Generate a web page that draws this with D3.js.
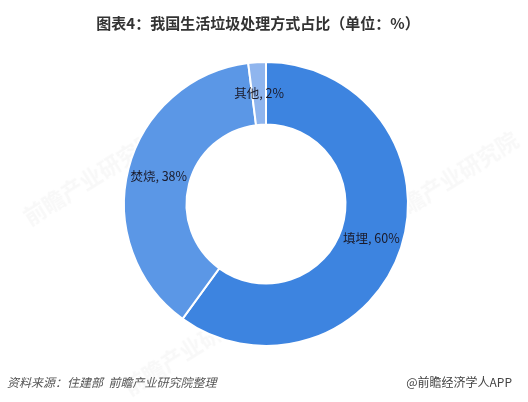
<!DOCTYPE html>
<html>
<head>
<meta charset="utf-8">
<script src="https://cdn.jsdelivr.net/npm/d3@7"></script>
<style>
  html, body { margin: 0; padding: 0; background: #fff; }
  svg { display: block; }
</style>
</head>
<body>
<svg id="chart" width="528" height="402"></svg>
<script>
// Treatment methods and their share (%)
const categories = ["填埋", "焚烧", "其他"];
const shares = [60, 38, 2];
const sliceColors = ["#3d84e0", "#5b97e6", "#8fb5ee"];

const titleText = "图表4：我国生活垃圾处理方式占比（单位：%）";
const sourceText = "资料来源：住建部\u00a0\u00a0前瞻产业研究院整理";
const brandText = "@前瞻经济学人APP";

const W = 528, H = 402;
const cx = 266, cy = 204;
const outerR = 142, innerR = 79.5;
const fontCN = "'Microsoft YaHei','Noto Sans CJK SC','Noto Sans',sans-serif";

const svg = d3.select("#chart");

// faint brand marks in the background
const wm = svg.append("g").attr("fill", "#c8c8c8").attr("opacity", 0.13)
  .attr("font-family", fontCN).attr("font-weight", "bold").attr("font-size", 22);
[[95, 185], [235, 115], [455, 185], [195, 355]].forEach(([x, y]) => {
  wm.append("text").attr("transform", `translate(${x},${y}) rotate(-32)`)
    .attr("text-anchor", "middle").text("前瞻产业研究院");
});

const data = categories.map((c, i) => ({ name: c, value: shares[i] }));
const pie = d3.pie().value(d => d.value).sort(null);
const arc = d3.arc().innerRadius(innerR).outerRadius(outerR);
const labelArc = d3.arc().innerRadius((innerR + outerR) / 2).outerRadius((innerR + outerR) / 2);
const color = d3.scaleOrdinal().domain(categories).range(sliceColors);

const g = svg.append("g").attr("transform", `translate(${cx},${cy})`);
const arcs = pie(data);

g.selectAll("path.slice").data(arcs).join("path")
  .attr("class", "slice")
  .attr("d", arc)
  .attr("fill", d => color(d.data.name))
  .attr("stroke", "#fff")
  .attr("stroke-width", 2);

g.selectAll("text.lbl").data(arcs).join("text")
  .attr("class", "lbl")
  .attr("transform", d => `translate(${labelArc.centroid(d)})`)
  .attr("text-anchor", "middle")
  .attr("dy", "0.35em")
  .attr("font-family", fontCN)
  .attr("font-size", 12.5)
  .attr("fill", "#1a1a2a")
  .text(d => `${d.data.name}, ${d.data.value}%`);

// title
svg.append("text")
  .attr("x", 258).attr("y", 29)
  .attr("text-anchor", "middle")
  .attr("font-family", fontCN)
  .attr("font-weight", "bold")
  .attr("font-size", 15)
  .attr("fill", "#333")
  .text(titleText);

// footer
svg.append("text")
  .attr("x", 7).attr("y", 387)
  .attr("font-family", fontCN)
  .attr("font-style", "italic")
  .attr("font-size", 12)
  .attr("fill", "#555")
  .text(sourceText);

svg.append("text")
  .attr("x", 512).attr("y", 387)
  .attr("text-anchor", "end")
  .attr("font-family", fontCN)
  .attr("font-size", 12)
  .attr("fill", "#444")
  .text(brandText);
</script>
</body>
</html>
